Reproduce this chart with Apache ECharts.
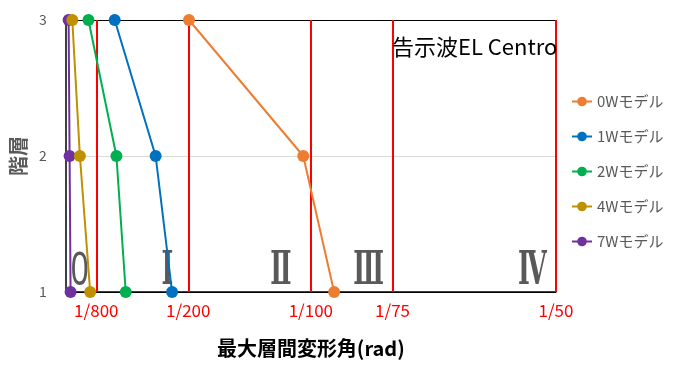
<!DOCTYPE html>
<html>
<head>
<meta charset="utf-8">
<script src="https://cdn.jsdelivr.net/npm/echarts@6/dist/echarts.min.js"></script>
<style>
  html, body { margin: 0; padding: 0; background: #fff; }
  #chart { width: 679px; height: 369px; }
</style>
</head>
<body>
<div id="chart"></div>
<script>
// Story numbers (vertical axis)
const stories = [3, 2, 1];

// Maximum story drift angle (rad) for each model, listed per story above
const drift0W = [0.00503, 0.00969, 0.01095];
const drift1W = [0.00200, 0.00367, 0.00434];
const drift2W = [0.00093, 0.00207, 0.00245];
const drift4W = [0.00027, 0.00058, 0.00100];
const drift7W = [0.00012, 0.00016, 0.00020];

const seriesNames = ['0Wモデル', '1Wモデル', '2Wモデル', '4Wモデル', '7Wモデル'];
const seriesColors = ['#ED7D31', '#0070C0', '#00B050', '#BF9000', '#7030A0'];
const seriesValues = [drift0W, drift1W, drift2W, drift4W, drift7W];

// Damage-level limit lines and their labels
const limitValues = [1 / 800, 1 / 200, 1 / 100, 1 / 75, 1 / 50];
const limitLabels = ['1/800', '1/200', '1/100', '1/75', '1/50'];

// Damage-zone captions and the point each one is centred on
const zoneNames = ['0', 'Ⅰ', 'Ⅱ', 'Ⅲ', 'Ⅳ'];
const zoneX = [0.00057, 0.00415, 0.00878, 0.01236, 0.01904];
const zoneY = [1.145, 1.145, 1.145, 1.145, 1.145];

const FONT = '"Noto Sans CJK JP", "Noto Sans", sans-serif';

const chart = echarts.init(document.getElementById('chart'));

const lineSeries = seriesNames.map((name, i) => ({
  name: name,
  type: 'line',
  data: seriesValues[i].map((v, k) => [v, stories[k]]),
  symbol: 'circle',
  symbolSize: 12,
  lineStyle: { width: 2, color: seriesColors[i] },
  itemStyle: { color: seriesColors[i] },
  z: 5 + (seriesNames.length - i)
}));

const limitSeries = {
  name: 'limits',
  type: 'line',
  data: [],
  z: 3,
  markLine: {
    silent: true,
    precision: 8,
    symbol: ['none', 'none'],
    lineStyle: { color: '#FF0000', width: 2, type: 'solid' },
    label: {
      show: true,
      position: 'start',
      color: '#FF0000',
      fontFamily: FONT,
      fontSize: 17,
      distance: 10,
      formatter: '{b}'
    },
    data: limitValues.map((v, i) => ({ name: limitLabels[i], xAxis: v }))
  }
};

chart.setOption({
  animation: false,
  backgroundColor: '#ffffff',
  textStyle: { fontFamily: FONT },
  title: {
    text: '告示波EL Centro',
    left: 387,
    top: 31,
    textStyle: { fontFamily: FONT, fontSize: 22, fontWeight: 'normal', color: '#000000' }
  },
  legend: {
    data: seriesNames,
    orient: 'vertical',
    left: 566,
    top: 89,
    itemWidth: 20,
    itemHeight: 12,
    itemGap: 20,
    textStyle: { fontFamily: FONT, fontSize: 15, color: '#595959' }
  },
  grid: { left: 64, right: 123, top: 20, bottom: 77 },
  xAxis: {
    type: 'value',
    min: 0,
    max: 0.02,
    name: '最大層間変形角(rad)',
    nameLocation: 'middle',
    nameGap: 46,
    nameTextStyle: { fontFamily: FONT, fontSize: 20, fontWeight: 'bold', color: '#000000' },
    axisLine: { show: true, lineStyle: { color: '#000000', width: 1.5 } },
    axisTick: { show: false },
    axisLabel: { show: false },
    splitLine: { show: false }
  },
  yAxis: {
    type: 'value',
    min: 1,
    max: 3,
    interval: 1,
    name: '階層',
    nameLocation: 'middle',
    nameRotate: 90,
    nameGap: 34,
    nameTextStyle: { fontFamily: FONT, fontSize: 20, fontWeight: 'bold', color: '#595959' },
    axisLine: { show: true, lineStyle: { color: '#404040', width: 2 } },
    axisTick: { show: false },
    axisLabel: { color: '#595959', fontSize: 14, margin: 19, fontFamily: FONT },
    splitLine: { show: true, lineStyle: { color: ['#000000', '#d9d9d9', '#000000'], width: 1 } }
  },
  series: [limitSeries].concat(lineSeries)
});

// Zone captions: tall, narrow lettering placed through the axis scales
const zoneGraphics = zoneNames.map((name, i) => {
  const p = chart.convertToPixel({ gridIndex: 0 }, [zoneX[i], zoneY[i]]);
  const roman = name !== '0';
  return {
    type: 'text',
    x: p[0],
    y: p[1],
    scaleX: roman ? 0.55 : 0.7,
    z: 2,
    silent: true,
    style: {
      text: name,
      align: 'center',
      verticalAlign: 'middle',
      fill: '#595959',
      font: roman
        ? 'bold 46px "DejaVu Serif", serif'
        : 'normal 46px "Noto Sans", sans-serif'
    }
  };
});
chart.setOption({ graphic: zoneGraphics });
</script>
</body>
</html>
